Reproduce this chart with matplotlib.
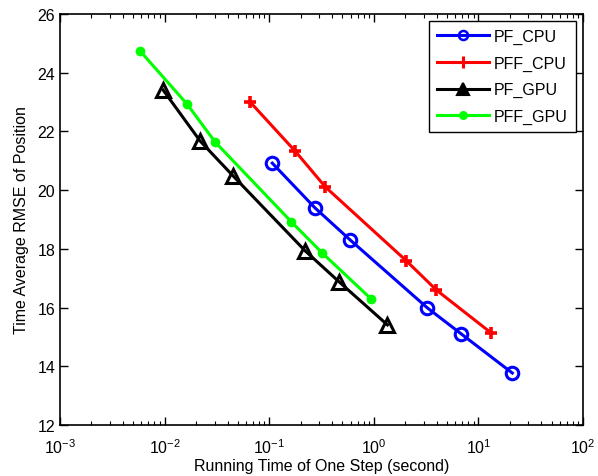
import matplotlib
matplotlib.use("Agg")
import matplotlib.pyplot as plt
from matplotlib.lines import Line2D
from matplotlib.ticker import LogLocator, NullFormatter

plt.rcParams['font.family'] = ['Liberation Sans', 'DejaVu Sans']
plt.rcParams['mathtext.fontset'] = 'custom'
plt.rcParams['mathtext.rm'] = 'Liberation Sans'

# Running time per step (seconds) and time-averaged position RMSE
pf_cpu_t = [0.107, 0.275, 0.596, 3.25, 6.87, 21.1]
pf_cpu_rmse = [20.92, 19.39, 18.30, 15.99, 15.10, 13.77]

pff_cpu_t = [0.0658, 0.177, 0.344, 2.05, 3.96, 13.3]
pff_cpu_rmse = [23.00, 21.33, 20.11, 17.59, 16.60, 15.13]

pf_gpu_t = [0.00968, 0.0219, 0.0453, 0.221, 0.468, 1.35]
pf_gpu_rmse = [23.41, 21.67, 20.48, 17.93, 16.87, 15.41]

pff_gpu_t = [0.00583, 0.0164, 0.0304, 0.163, 0.321, 0.946]
pff_gpu_rmse = [24.74, 22.93, 21.64, 18.92, 17.86, 16.29]

labels = ['PF_CPU', 'PFF_CPU', 'PF_GPU', 'PFF_GPU']
colors = ['#0000ff', '#ff0000', 'black', '#00ff00']

fig = plt.figure(figsize=(5.98, 4.77), dpi=100)
ax = fig.add_axes([60/598, 1 - 426/477, (583 - 60)/598, (426 - 15)/477])

lw = 2.2
ax.plot(pf_cpu_t, pf_cpu_rmse, color=colors[0], lw=lw, marker='o', ms=9,
        mfc='none', mew=2.2)
ax.plot(pff_cpu_t, pff_cpu_rmse, color=colors[1], lw=lw, marker='+', ms=9,
        mew=2.6)
ax.plot(pf_gpu_t, pf_gpu_rmse, color=colors[2], lw=lw, marker='^', ms=10,
        mfc='none', mew=2.2)
ax.plot(pff_gpu_t, pff_gpu_rmse, color=colors[3], lw=lw, marker='o', ms=7,
        mfc=colors[3], mew=0)

ax.set_xscale('log')
ax.set_xlim(1e-3, 1e2)
ax.set_ylim(12, 26)
ax.set_yticks(range(12, 27, 2))
ax.xaxis.set_major_locator(LogLocator(base=10, numticks=10))
ax.xaxis.set_minor_locator(LogLocator(base=10, subs=range(2, 10), numticks=10))
ax.xaxis.set_minor_formatter(NullFormatter())

ax.tick_params(which='both', direction='in', top=True, right=True,
               labelsize=11.5, colors='black')
ax.tick_params(which='major', length=6, width=1)
ax.tick_params(which='minor', length=3, width=0.8)
ax.tick_params(axis='x', which='major', pad=9)
for s in ax.spines.values():
    s.set_linewidth(1.2)

ax.set_xlabel('Running Time of One Step (second)', fontsize=11.5, labelpad=1)
ax.set_ylabel('Time Average RMSE of Position', fontsize=11.5, labelpad=6)

# Legend keys use smaller markers than the data lines
handles = [
    Line2D([], [], color=colors[0], lw=lw, marker='o', ms=6.5, mfc='none', mew=1.8),
    Line2D([], [], color=colors[1], lw=lw, marker='+', ms=8, mew=2.2),
    Line2D([], [], color=colors[2], lw=lw, marker='^', ms=8, mfc=colors[2], mew=1.5),
    Line2D([], [], color=colors[3], lw=lw, marker='o', ms=6.5, mfc=colors[3], mew=0),
]
leg = ax.legend(handles, labels, loc='upper right',
                bbox_to_anchor=(0.9866, 0.983), fontsize=11.5,
                numpoints=1, handlelength=3.2, handletextpad=0.35,
                borderpad=0.5, labelspacing=0.72, fancybox=False,
                framealpha=1, edgecolor='black', borderaxespad=0)
leg.get_frame().set_linewidth(1.0)

fig.savefig('out.png', dpi=100)
